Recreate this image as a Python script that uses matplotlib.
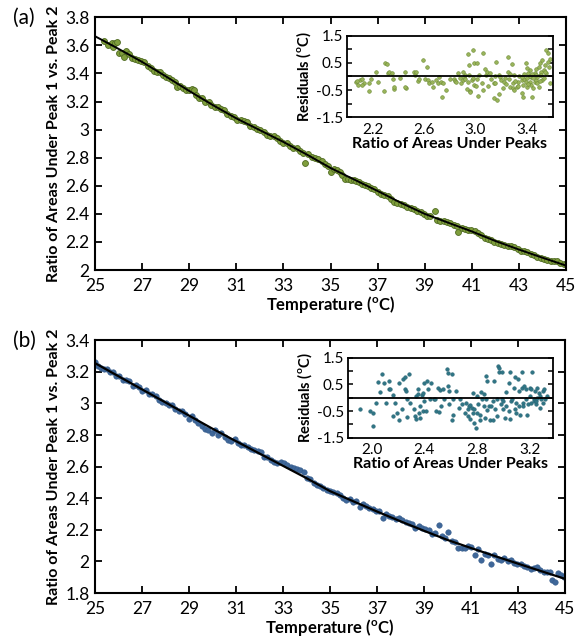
import matplotlib
matplotlib.use("Agg")
import matplotlib.pyplot as plt
import numpy as np

plt.rcParams['font.family'] = ['Lato', 'DejaVu Sans']
plt.rcParams['mathtext.fontset'] = 'custom'
plt.rcParams['mathtext.rm'] = 'Lato'
plt.rcParams['mathtext.bf'] = 'Lato:bold'

# ---------------- Panel (a) data ----------------
temp_a = [25.40, 25.54, 25.70, 25.76, 25.86, 25.93, 26.03, 26.13, 26.21, 26.32, 26.46, 26.58, 26.70, 26.84, 26.97,
          27.10, 27.24, 27.36, 27.50, 27.62, 27.75, 27.88, 28.00, 28.12, 28.26, 28.38, 28.50, 28.62, 28.74, 28.88,
          29.00, 29.12, 29.20, 29.30, 29.42, 29.56, 29.68, 29.82, 29.94, 30.08, 30.20, 30.34, 30.48, 30.62, 30.76,
          30.90, 31.04, 31.18, 31.32, 31.46, 31.60, 31.74, 31.88, 32.02, 32.16, 32.30, 32.44, 32.58, 32.72, 32.86,
          33.00, 33.14, 33.28, 33.42, 33.56, 33.70, 33.84, 33.92, 34.06, 34.20, 34.34, 34.48, 34.62, 34.76, 34.90,
          35.02, 35.14, 35.26, 35.38, 35.50, 35.62, 35.74, 35.86, 35.98, 36.10, 36.22, 36.34, 36.46, 36.58, 36.72,
          36.86, 37.00, 37.14, 37.28, 37.42, 37.56, 37.70, 37.84, 37.98, 38.12, 38.26, 38.40, 38.54, 38.68, 38.82,
          38.96, 39.10, 39.24, 39.44, 39.52, 39.66, 39.80, 39.94, 40.08, 40.22, 40.36, 40.43, 40.56, 40.70, 40.84,
          40.98, 41.12, 41.26, 41.40, 41.54, 41.68, 41.82, 41.96, 42.10, 42.24, 42.38, 42.52, 42.66, 42.80, 42.94,
          43.08, 43.22, 43.36, 43.50, 43.64, 43.78, 43.92, 44.06, 44.20, 44.34, 44.48, 44.62, 44.76, 44.90, 45.00]
ratio_a = [3.633, 3.606, 3.617, 3.589, 3.617, 3.624, 3.544, 3.548, 3.520, 3.560, 3.542, 3.510, 3.500, 3.494, 3.490,
           3.480, 3.450, 3.436, 3.414, 3.412, 3.408, 3.388, 3.372, 3.368, 3.354, 3.342, 3.306, 3.310, 3.296, 3.284,
           3.282, 3.290, 3.282, 3.246, 3.226, 3.222, 3.200, 3.196, 3.172, 3.158, 3.162, 3.146, 3.142, 3.110, 3.100,
           3.088, 3.072, 3.066, 3.062, 3.052, 3.024, 3.016, 3.004, 2.996, 2.980, 2.962, 2.958, 2.952, 2.940, 2.922,
           2.908, 2.902, 2.886, 2.872, 2.866, 2.846, 2.834, 2.764, 2.824, 2.804, 2.798, 2.790, 2.778, 2.756, 2.744,
           2.700, 2.722, 2.714, 2.700, 2.678, 2.652, 2.648, 2.640, 2.640, 2.632, 2.630, 2.616, 2.608, 2.598, 2.584,
           2.576, 2.556, 2.544, 2.532, 2.530, 2.506, 2.486, 2.478, 2.474, 2.466, 2.452, 2.440, 2.436, 2.418, 2.412,
           2.398, 2.384, 2.388, 2.418, 2.356, 2.352, 2.350, 2.344, 2.334, 2.318, 2.312, 2.272, 2.302, 2.290, 2.288,
           2.282, 2.276, 2.264, 2.250, 2.228, 2.222, 2.216, 2.200, 2.196, 2.188, 2.178, 2.170, 2.168, 2.162, 2.150,
           2.138, 2.136, 2.128, 2.118, 2.104, 2.090, 2.086, 2.080, 2.074, 2.064, 2.062, 2.068, 2.052, 2.046, 2.040]
fit_temp_a = [25, 26, 27, 28, 29, 30, 31, 32, 33, 34, 35, 36, 37, 38, 39, 40, 41, 42, 43, 44, 45]
fit_ratio_a = [3.665, 3.575, 3.482, 3.380, 3.275, 3.175, 3.080, 2.996, 2.912, 2.822, 2.727,
               2.645, 2.563, 2.478, 2.400, 2.337, 2.275, 2.207, 2.146, 2.088, 2.032]

# inset (a): residuals vs ratio
res_x_a = [2.07, 2.09, 2.10, 2.12, 2.13, 2.17, 2.17, 2.19, 2.23, 2.24, 2.29, 2.30, 2.31, 2.32, 2.33, 2.35, 2.36,
           2.37, 2.37, 2.41, 2.45, 2.46, 2.52, 2.53, 2.54, 2.55, 2.56, 2.59, 2.61, 2.62, 2.63, 2.64, 2.66, 2.67,
           2.69, 2.71, 2.72, 2.73, 2.74, 2.75, 2.77, 2.83, 2.84, 2.85, 2.86, 2.88, 2.89, 2.90, 2.91, 2.92, 2.92,
           2.93, 2.94, 2.94, 2.95, 2.96, 2.96, 2.97, 2.98, 2.99, 2.99, 3.01, 3.01, 3.02, 3.03, 3.05, 3.06, 3.06,
           3.07, 3.08, 3.09, 3.11, 3.12, 3.14, 3.14, 3.15, 3.16, 3.17, 3.18, 3.18, 3.19, 3.20, 3.21, 3.22, 3.24,
           3.25, 3.25, 3.26, 3.27, 3.28, 3.29, 3.29, 3.30, 3.32, 3.33, 3.34, 3.36, 3.36, 3.37, 3.38, 3.39, 3.40,
           3.40, 3.41, 3.42, 3.42, 3.43, 3.43, 3.44, 3.45, 3.46, 3.46, 3.47, 3.47, 3.48, 3.49, 3.49, 3.50, 3.50,
           3.51, 3.52, 3.52, 3.53, 3.54, 3.55, 3.55, 3.56, 3.56, 3.57, 3.58, 3.58,
           3.36, 3.38, 3.39, 3.41, 3.42, 3.44, 3.45, 3.47, 3.48, 3.50, 3.51, 3.53, 3.54, 3.40, 3.37, 3.33, 3.30,
           3.31, 3.27, 3.23, 2.98, 3.00, 2.95, 2.90, 3.10, 3.15, 2.80, 2.08, 2.12, 2.45]
res_y_a = [-0.22, -0.31, -0.13, -0.10, -0.25, -0.25, -0.52, -0.10, 0.15, -0.19, -0.52, 0.49, 0.45, 0.14, 0.18,
           0.14, -0.10, -0.46, -0.40, -0.07, 0.18, -0.44, 0.15, 0.06, 0.18, -0.15, -0.10, 0.59, -0.10, 0.36,
           -0.13, -0.25, -0.22, -0.38, -0.13, -0.23, -0.01, -0.19, -0.75, -0.25, -0.50, -0.10, -0.15, -0.19,
           0.12, -0.07, -0.25, -0.13, -0.01, 0.06, -0.10, -0.48, 0.83, -0.19, 0.43, -0.54, -0.59, -0.13, 0.98,
           -0.31, 0.49, 0.49, -0.10, -0.71, 0.06, -0.25, 0.86, -0.50, 0.27, 0.06, 0.15, 0.12, -0.10, -0.25,
           -0.81, -0.25, 0.54, -0.87, 0.06, -0.65, -0.01, -0.13, -0.44, -0.19, -0.28, 0.73, 0.18, -0.10, -0.38,
           0.45, -0.44, -0.25, -0.50, -0.38, -0.19, 0.02, -0.13, -0.62, -0.75, -0.10, 0.51, -0.07, -0.38, 0.12,
           -0.19, 0.24, -0.31, -0.01, -0.75, -0.44, 0.14, -0.19, -0.13, 0.27, -0.01, -0.38, 0.36, 0.06, 0.49,
           0.18, 0.61, -0.13, 0.24, 0.43, 0.96, 0.12, 0.86, 0.55, 0.36, -0.25, 0.64,
           -0.02, 0.08, -0.22, -0.28, 0.02, 0.10, -0.06, 0.05, -0.24, -0.15, 0.05, -0.05, 0.15, 0.30, -0.30,
           -0.35, 0.05, -0.15, 0.10, -0.05, -0.05, -0.35, 0.05, 0.15, -0.35, 0.02, -0.08, -0.15, -0.30, -0.40]

# ---------------- Panel (b) data ----------------
temp_b = [25.02, 25.12, 25.25, 25.38, 25.50, 25.62, 25.76, 25.90, 26.04, 26.18, 26.32, 26.46, 26.60, 26.74, 26.88,
          27.02, 27.16, 27.30, 27.44, 27.58, 27.72, 27.86, 28.00, 28.14, 28.28, 28.42, 28.56, 28.70, 28.84, 28.98,
          29.12, 29.26, 29.40, 29.54, 29.68, 29.82, 29.96, 30.10, 30.24, 30.38, 30.52, 30.66, 30.80, 30.94, 31.08,
          31.22, 31.36, 31.50, 31.64, 31.78, 31.92, 32.06, 32.20, 32.34, 32.48, 32.62, 32.76, 32.90, 33.04, 33.18,
          33.32, 33.46, 33.60, 33.74, 33.88, 34.02, 34.16, 34.30, 34.44, 34.58, 34.72, 34.86, 35.00, 35.14, 35.28,
          35.42, 35.56, 35.70, 35.84, 35.98, 36.12, 36.26, 36.40, 36.54, 36.68, 36.82, 36.96, 37.10, 37.24, 37.38,
          37.52, 37.66, 37.80, 37.94, 38.08, 38.22, 38.36, 38.50, 38.64, 38.78, 38.92, 39.06, 39.20, 39.34, 39.48,
          39.62, 39.76, 39.90, 40.04, 40.18, 40.32, 40.46, 40.60, 40.74, 40.88, 41.02, 41.16, 41.30, 41.44, 41.58,
          41.72, 41.86, 42.00, 42.14, 42.28, 42.42, 42.56, 42.70, 42.84, 42.98, 43.12, 43.26, 43.40, 43.54, 43.68,
          43.82, 43.96, 44.10, 44.24, 44.38, 44.46, 44.56, 44.70, 44.84, 44.96]
ratio_b = [3.265, 3.240, 3.226, 3.218, 3.220, 3.196, 3.198, 3.176, 3.172, 3.150, 3.148, 3.142, 3.108, 3.118, 3.102,
           3.080, 3.084, 3.058, 3.060, 3.046, 3.022, 3.010, 3.000, 2.988, 2.990, 2.966, 2.952, 2.954, 2.930, 2.904,
           2.920, 2.894, 2.878, 2.856, 2.840, 2.830, 2.812, 2.832, 2.800, 2.814, 2.786, 2.770, 2.762, 2.776, 2.748,
           2.736, 2.740, 2.726, 2.714, 2.706, 2.698, 2.694, 2.664, 2.660, 2.642, 2.630, 2.622, 2.630, 2.622, 2.608,
           2.596, 2.594, 2.588, 2.576, 2.568, 2.530, 2.520, 2.498, 2.484, 2.478, 2.466, 2.452, 2.448, 2.440, 2.432,
           2.420, 2.404, 2.390, 2.398, 2.374, 2.380, 2.346, 2.362, 2.348, 2.340, 2.332, 2.320, 2.320, 2.276, 2.302,
           2.290, 2.284, 2.266, 2.272, 2.262, 2.248, 2.244, 2.236, 2.214, 2.224, 2.212, 2.208, 2.196, 2.172, 2.180,
           2.228, 2.162, 2.150, 2.188, 2.130, 2.126, 2.086, 2.082, 2.084, 2.098, 2.090, 2.040, 2.076, 2.010, 2.050,
           2.040, 1.984, 2.040, 2.018, 2.012, 2.024, 2.000, 2.008, 1.990, 1.982, 1.986, 1.970, 1.964, 1.954, 1.958,
           1.962, 1.944, 1.934, 1.930, 1.936, 1.880, 1.870, 1.926, 1.914, 1.900]
fit_temp_b = [25, 26, 27, 28, 29, 30, 31, 32, 33, 34, 35, 36, 37, 38, 39, 40, 41, 42, 43, 44, 45]
fit_ratio_b = [3.255, 3.172, 3.089, 3.006, 2.923, 2.840, 2.761, 2.683, 2.605, 2.527, 2.445,
               2.380, 2.316, 2.254, 2.194, 2.136, 2.085, 2.035, 1.986, 1.938, 1.890]

res_x_b = [1.91, 1.99, 2.01, 2.01, 2.03, 2.05, 2.06, 2.08, 2.09, 2.11, 2.13, 2.13, 2.14, 2.16, 2.16, 2.18, 2.19,
           2.21, 2.21, 2.23, 2.24, 2.25, 2.25, 2.26, 2.27, 2.27, 2.28, 2.29, 2.32, 2.33, 2.34, 2.34, 2.35, 2.35,
           2.36, 2.37, 2.37, 2.38, 2.39, 2.39, 2.40, 2.40, 2.41, 2.42, 2.43, 2.44, 2.45, 2.47, 2.48, 2.49, 2.50,
           2.51, 2.52, 2.53, 2.54, 2.55, 2.57, 2.58, 2.58, 2.59, 2.59, 2.61, 2.61, 2.62, 2.62, 2.64, 2.66, 2.67,
           2.69, 2.71, 2.72, 2.73, 2.73, 2.74, 2.75, 2.75, 2.76, 2.77, 2.77, 2.78, 2.78, 2.79, 2.80, 2.80, 2.81,
           2.82, 2.82, 2.83, 2.84, 2.85, 2.85, 2.86, 2.87, 2.87, 2.88, 2.88, 2.89, 2.90, 2.91, 2.92, 2.92, 2.93,
           2.94, 2.95, 2.95, 2.96, 2.97, 2.97, 2.98, 2.99, 2.99, 3.00, 3.00, 3.01, 3.02, 3.02, 3.04, 3.04, 3.05,
           3.05, 3.06, 3.07, 3.08, 3.09, 3.09, 3.10, 3.10, 3.11, 3.12, 3.12, 3.13, 3.14, 3.14, 3.15, 3.15, 3.16,
           3.17, 3.17, 3.18, 3.19, 3.20, 3.20, 3.21, 3.21, 3.22, 3.23, 3.23, 3.24, 3.25, 3.25, 3.26, 3.26, 3.27,
           3.28, 3.28, 3.29, 3.30, 3.30, 3.31, 3.32, 3.33]
res_y_b = [-0.42, -0.50, -0.57, -1.07, -0.19, 0.59, 0.21, 0.88, 0.57, -0.19, 0.34, 0.63, 0.32, 0.09, -0.69, -0.19,
           -0.59, -0.84, 0.57, -0.42, 0.69, 0.76, 0.32, 0.25, -0.06, -0.72, 0.88, -0.19, -0.44, -0.69, -0.79, 0.06,
           0.32, 0.13, -0.57, -0.76, -0.32, 0.09, -0.50, 0.19, -0.13, 0.57, -0.50, 0.63, 0.32, -0.06, 0.57, -0.04,
           -0.06, -0.50, 0.38, -0.54, 0.29, -0.32, 0.32, -0.06, 1.07, 0.92, 0.44, -0.25, 0.25, -0.82, 0.88, -0.06,
           -0.63, 0.25, -0.38, -0.06, -0.25, -0.57, -0.19, -0.69, -0.44, -0.32, -0.79, -0.29, -0.38, 0.19, -0.57,
           -0.95, -0.44, -1.13, 0.06, -0.57, -0.25, -0.82, -0.63, 0.21, -0.04, -0.32, 0.13, -0.76, 0.82, -0.06,
           0.63, -0.47, -0.32, -0.82, -0.32, -0.82, -0.13, 0.63, -0.42, -0.69, -0.06, 1.20, 0.95, 1.13, -0.25,
           0.95, -0.06, -0.44, -0.13, -0.76, 0.21, -0.32, 0.57, -0.50, -0.79, 0.95, -0.13, -0.04, 0.38, -0.44,
           0.79, -0.19, -0.59, 0.69, 0.25, -0.32, -0.63, 0.95, 0.38, -0.19, -0.32, 0.44, -0.06, 0.32, -0.63,
           -0.25, 0.06, 0.38, -0.19, 0.32, 0.95, -0.04, -0.13, 0.25, -0.25, -0.13, 0.00, 0.38, 0.19, -0.38, 0.06,
           -0.06, 0.25, -0.19, 0.32, -0.06, 0.06]

# ---------------- Figure ----------------
fig = plt.figure(figsize=(5.83, 6.40), dpi=100)

ax_a = fig.add_axes([0.163, 0.578, 0.808, 0.395])
ax_b = fig.add_axes([0.163, 0.0734, 0.806, 0.395])
in_a = fig.add_axes([0.595, 0.817, 0.353, 0.127])
in_b = fig.add_axes([0.597, 0.316, 0.352, 0.125])

tick_fs = 12.5
lab_fs = 11.5


def style_main(ax, yticks, ylim):
    ax.set_xlim(25, 45)
    ax.set_ylim(*ylim)
    ax.set_xticks(np.arange(25, 46, 2))
    ax.set_yticks(yticks)
    ax.set_yticklabels([('%g' % v) for v in yticks])
    ax.tick_params(direction='in', length=5, width=1.3, top=True, right=True,
                   labelsize=tick_fs)
    ax.tick_params(axis='y', pad=4)
    ax.tick_params(axis='x', pad=6)
    for s in ax.spines.values():
        s.set_linewidth(1.5)
    ax.set_xlabel('Temperature ($^{\\mathbf{o}}$C)', fontsize=12, fontweight='bold', labelpad=0)
    ax.set_ylabel('Ratio of Areas Under Peak 1 vs. Peak 2', fontsize=lab_fs, fontweight='bold', labelpad=3)


def style_inset(ax, xlim, xticks):
    ax.set_xlim(*xlim)
    ax.set_ylim(-1.5, 1.5)
    ax.set_xticks(xticks)
    ax.set_xticklabels(['%.1f' % v for v in xticks])
    ax.set_yticks([-1.5, -1.0, -0.5, 0.0, 0.5, 1.0, 1.5])
    ax.set_yticklabels(['-1.5', '', '-0.5', '', '0.5', '', '1.5'])
    ax.tick_params(direction='in', length=3.5, width=1.1, right=True, labelsize=11, pad=3)
    ax.tick_params(axis='x', length=0, pad=4)
    for s in ax.spines.values():
        s.set_linewidth(1.3)
    ax.axhline(0, color='black', lw=1.3, zorder=3)
    ax.set_xlabel('Ratio of Areas Under Peaks', fontsize=11.5, fontweight='bold', labelpad=0)
    ax.set_ylabel('Residuals ($^{\\mathbf{o}}$C)', fontsize=10.5, fontweight='bold', labelpad=2)


# panel (a)
ax_a.scatter(temp_a, ratio_a, s=18, facecolor='#7f9e3c', edgecolor='#4f6a22', linewidth=0.6, zorder=2)
ax_a.plot(fit_temp_a, fit_ratio_a, color='black', lw=1.4, zorder=3)
style_main(ax_a, [2, 2.2, 2.4, 2.6, 2.8, 3, 3.2, 3.4, 3.6, 3.8], (2, 3.8))

in_a.scatter(res_x_a, res_y_a, s=7, facecolor='#9ab45a', edgecolor='#6a8a34', linewidth=0.4, zorder=2)
style_inset(in_a, (2.0, 3.6), [2.2, 2.6, 3.0, 3.4])

# panel (b)
ax_b.scatter(temp_b, ratio_b, s=16, facecolor='#3f6799', edgecolor='#2f5585', linewidth=0.3, zorder=2)
ax_b.plot(fit_temp_b, fit_ratio_b, color='black', lw=1.6, zorder=3)
style_main(ax_b, [1.8, 2, 2.2, 2.4, 2.6, 2.8, 3, 3.2, 3.4], (1.8, 3.4))

in_b.scatter(res_x_b, res_y_b, s=7, facecolor='#2f7585', edgecolor='#255f6e', linewidth=0.3, zorder=2)
style_inset(in_b, (1.82, 3.38), [2.0, 2.4, 2.8, 3.2])

fig.text(0.022, 0.972, '(a)', fontsize=15, ha='left', va='center')
fig.text(0.022, 0.467, '(b)', fontsize=15, ha='left', va='center')

fig.savefig('out.png', dpi=100)
